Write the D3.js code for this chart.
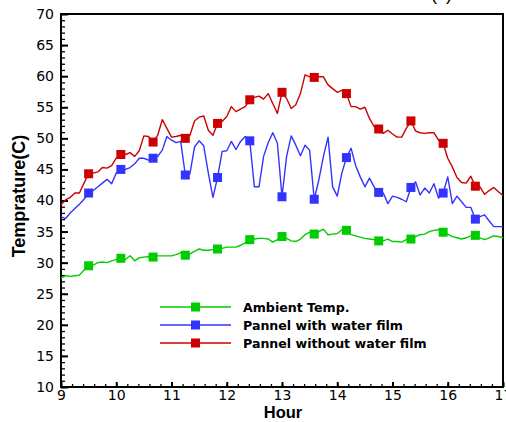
<!DOCTYPE html>
<html>
<head>
<meta charset="utf-8">
<script src="https://cdn.jsdelivr.net/npm/d3@7"></script>
<style>
html, body { margin: 0; padding: 0; background: #fff; }
svg { display: block; }
</style>
</head>
<body>
<svg id="chart" width="506" height="422"></svg>
<script>
// ---- data (5-minute readings from 9:00 to 17:00) ----
const hours = d3.range(97).map(i => 9 + i / 12);
const ambientTemp = [
  27.5, 27.9, 27.8, 27.9, 28.0, 28.8, 29.5, 29.6, 30.0, 30.1,
  30.0, 30.3, 30.5, 30.7, 30.5, 31.1, 30.3, 30.8, 30.9, 31.0,
  30.9, 31.1, 31.1, 31.1, 31.1, 31.3, 31.6, 31.2, 31.4, 31.8,
  32.2, 32.0, 32.0, 32.1, 32.2, 32.3, 32.5, 32.5, 32.5, 32.8,
  33.2, 33.7, 33.8, 33.9, 33.9, 33.8, 33.3, 33.7, 34.2, 33.9,
  33.5, 33.4, 33.8, 34.5, 34.9, 34.6, 35.0, 35.4, 34.5, 34.6,
  34.7, 35.3, 35.2, 34.5, 34.3, 34.1, 33.9, 33.8, 33.7, 33.5,
  33.5, 33.8, 33.4, 33.4, 33.3, 33.7, 33.8, 34.2, 34.5, 34.6,
  35.0, 35.2, 35.3, 34.9, 34.6, 34.2, 34.0, 33.8, 34.0, 34.3,
  34.4, 34.0, 33.7, 34.0, 34.3, 34.2, 34.0
];
const withWaterFilm = [
  37.4, 37.1, 38.0, 38.7, 39.4, 40.2, 41.2, 41.6, 42.2, 42.8,
  43.4, 42.7, 44.4, 45.0, 45.0, 45.3, 45.9, 46.8, 46.8, 46.5,
  46.8, 47.1, 48.1, 50.3, 49.7, 49.3, 49.5, 44.1, 44.3, 48.6,
  49.6, 48.8, 44.4, 40.5, 43.7, 47.9, 48.0, 49.5, 48.2, 49.5,
  50.3, 49.6, 42.2, 42.2, 47.1, 49.3, 50.9, 49.2, 40.6, 47.1,
  50.4, 48.9, 47.2, 48.9, 48.1, 40.2, 43.3, 47.1, 50.2, 42.2,
  40.7, 44.4, 46.9, 48.4, 45.6, 43.8, 42.2, 43.6, 42.2, 41.3,
  41.2, 39.5, 40.7, 40.5, 40.2, 39.8, 42.1, 43.0, 40.9, 42.0,
  41.2, 42.7, 40.4, 41.2, 43.8, 39.5, 40.7, 39.8, 38.9, 38.9,
  37.0, 37.4, 37.7, 36.7, 35.8, 35.8, 35.8
];
const withoutWaterFilm = [
  39.3, 40.1, 40.5, 41.2, 41.2, 42.8, 44.3, 44.4, 44.6, 45.3,
  45.2, 45.6, 46.8, 47.4, 47.4, 47.7, 47.1, 48.0, 50.4, 50.3,
  49.4, 50.5, 53.0, 51.6, 50.2, 50.3, 50.5, 50.0, 50.5, 52.8,
  53.4, 53.6, 51.3, 50.5, 52.4, 52.7, 53.5, 55.1, 54.3, 54.7,
  55.1, 56.2, 56.6, 56.8, 56.3, 57.2, 55.6, 54.0, 57.4, 56.4,
  54.8, 55.4, 57.2, 60.2, 59.9, 59.8, 59.9, 59.9, 58.6, 58.0,
  57.4, 57.7, 57.2, 55.1, 55.1, 54.7, 55.0, 53.2, 51.9, 51.5,
  50.8, 51.3, 50.7, 50.2, 50.2, 51.6, 52.8, 51.2, 50.9, 50.8,
  50.9, 50.9, 49.7, 49.2, 46.8, 45.4, 43.7, 42.9, 42.8, 43.9,
  42.3, 42.2, 41.0, 41.6, 42.1, 41.4, 40.8
];
const markerIndex = [6, 13, 20, 27, 34, 41, 48, 55, 62, 69, 76, 83, 90];
const xTicks = [9, 10, 11, 12, 13, 14, 15, 16, 17];
const yTicks = [10, 15, 20, 25, 30, 35, 40, 45, 50, 55, 60, 65, 70];
const seriesNames = ["Ambient Temp.", "Pannel with water film", "Pannel without water film"];
const seriesColors = ["#00cc00", "#3333ff", "#cc0000"];
const xTitle = "Hour";
const yTitle = "Temprature(C)";
const panelTag = "(c)";

// ---- layout ----
const L = 61, R = 503, T = 14, B = 387;
const svg = d3.select("#chart");
const x = d3.scaleLinear().domain([9, 17]).range([L, R]);
const y = d3.scaleLinear().domain([10, 70]).range([B, T]);
const tickFont = "'DejaVu Sans', sans-serif";

// minor ticks
svg.append("g").attr("transform", `translate(${L},0)`)
  .call(d3.axisLeft(y).tickValues(d3.range(10, 71, 1)).tickSize(-4).tickSizeOuter(0).tickFormat(""))
  .call(g => g.select(".domain").remove())
  .selectAll("line").attr("stroke", "#000").attr("stroke-width", 1.3);
svg.append("g").attr("transform", `translate(0,${B})`)
  .call(d3.axisBottom(x).tickValues(d3.range(0, 41).map(i => 9 + i * 0.2)).tickSize(-3).tickSizeOuter(0).tickFormat(""))
  .call(g => g.select(".domain").remove())
  .selectAll("line").attr("stroke", "#000").attr("stroke-width", 1.3);

// major ticks + labels
const yAx = svg.append("g").attr("transform", `translate(${L},0)`)
  .call(d3.axisLeft(y).tickValues(yTicks).tickSize(-7).tickSizeOuter(0).tickPadding(7).tickFormat(d3.format("d")));
yAx.select(".domain").remove();
yAx.selectAll("line").attr("stroke", "#000").attr("stroke-width", 2);
yAx.selectAll("text").attr("fill", "#000").style("font-family", tickFont).style("font-size", "14px");

const xAx = svg.append("g").attr("transform", `translate(0,${B})`)
  .call(d3.axisBottom(x).tickValues(xTicks).tickSize(-5).tickSizeOuter(0).tickPadding(3).tickFormat(d3.format("d")));
xAx.select(".domain").remove();
xAx.selectAll("line").attr("stroke", "#000").attr("stroke-width", 2);
xAx.selectAll("text").attr("fill", "#000").style("font-family", tickFont).style("font-size", "14px");

// frame
svg.append("rect").attr("x", L).attr("y", T).attr("width", R - L).attr("height", B - T)
  .attr("fill", "none").attr("stroke", "#000").attr("stroke-width", 2);

// series
const allSeries = [ambientTemp, withWaterFilm, withoutWaterFilm];
const line = d3.line().x((d, i) => x(hours[i])).y(d => y(d));
const ms = 9;
allSeries.forEach((vals, k) => {
  svg.append("path").datum(vals).attr("d", line)
    .attr("fill", "none").attr("stroke", seriesColors[k]).attr("stroke-width", 1.4)
    .attr("stroke-linejoin", "round");
  svg.append("g").selectAll("rect").data(markerIndex).join("rect")
    .attr("x", i => x(hours[i]) - ms / 2).attr("y", i => y(vals[i]) - ms / 2)
    .attr("width", ms).attr("height", ms).attr("fill", seriesColors[k]);
});

// legend
const lg = svg.append("g");
seriesNames.forEach((name, k) => {
  const ly = 307 + k * 18;
  lg.append("line").attr("x1", 160).attr("x2", 231).attr("y1", ly).attr("y2", ly)
    .attr("stroke", seriesColors[k]).attr("stroke-width", 1.4);
  lg.append("rect").attr("x", 195.5 - ms / 2).attr("y", ly - ms / 2).attr("width", ms).attr("height", ms)
    .attr("fill", seriesColors[k]);
  lg.append("text").attr("x", 243).attr("y", ly + 4.5).text(name)
    .style("font-family", tickFont).style("font-weight", "bold").style("font-size", "12.6px").attr("fill", "#000");
});

// titles
svg.append("text").attr("x", 283).attr("y", 418).attr("text-anchor", "middle").text(xTitle)
  .style("font-family", "'Liberation Sans', Arial, sans-serif").style("font-weight", "bold").style("font-size", "16.5px");
svg.append("text").attr("transform", "translate(25,196) rotate(-90)").attr("text-anchor", "middle").text(yTitle)
  .style("font-family", "'Liberation Sans', Arial, sans-serif").style("font-weight", "bold").style("font-size", "18px");
svg.append("text").attr("x", 431).attr("y", 0).text(panelTag)
  .style("font-family", "'Liberation Sans', Arial, sans-serif").style("font-size", "18px");
</script>
</body>
</html>
